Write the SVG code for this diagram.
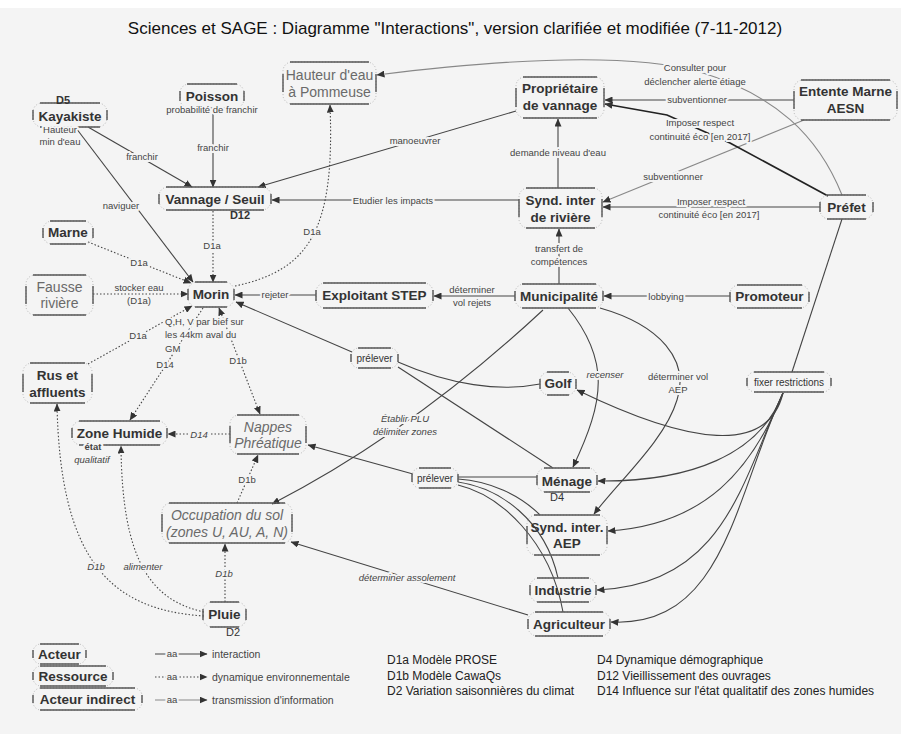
<svg xmlns="http://www.w3.org/2000/svg" width="901" height="734" viewBox="0 0 901 734">
<style>
text{font-family:"Liberation Sans",Arial,sans-serif}
.fr{fill:none;stroke:#b5b5b5;stroke-width:1;stroke-dasharray:1 2}
.ed{fill:none;stroke:#555;stroke-width:1.4}
.a{font-size:13.5px;font-weight:bold;fill:#333;text-anchor:middle}
.r{font-size:14px;fill:#6a6a6a;text-anchor:middle}
.ri{font-size:14px;font-style:italic;fill:#6a6a6a;text-anchor:middle}
.sm{font-size:10px;fill:#333;text-anchor:middle}
.dn{font-size:11px;fill:#333;text-anchor:middle}
.lb{font-size:9.5px;fill:#444;text-anchor:middle;stroke:#f4f4f4;stroke-width:4;paint-order:stroke;stroke-linejoin:round}
.st{text-anchor:start}
.li{font-style:italic}
.s{fill:none;stroke:#444;stroke-width:1.1}
.d{fill:none;stroke:#444;stroke-width:1.1;stroke-dasharray:1.5 2}
.k{fill:none;stroke:#222;stroke-width:1.7}
.g{fill:none;stroke:#888;stroke-width:1.1}
.lg{font-size:12px;fill:#222}
.lt{font-size:10.5px;fill:#444}
</style>
<defs>
<marker id="ar" markerUnits="userSpaceOnUse" markerWidth="8" markerHeight="7" refX="7.5" refY="3.5" orient="auto-start-reverse"><path d="M0,0 L8,3.5 L0,7 z" fill="#333"/></marker>
</defs>
<rect x="0" y="0" width="901" height="734" fill="#ffffff"/>
<rect x="0" y="8" width="901" height="726" fill="#f4f4f4"/>
<text x="455" y="34" font-size="17" fill="#111" text-anchor="middle">Sciences et SAGE : Diagramme "Interactions", version clarifiée et modifiée (7-11-2012)</text>

<g id="connectors">
<path class="s" d="M88,127 L192,187" marker-end="url(#ar)"/>
<path class="s" d="M213,114 L213,187" marker-end="url(#ar)"/>
<path class="s" d="M516,111 L258,187" marker-end="url(#ar)"/>
<path class="s" d="M519,200 L272,200" marker-end="url(#ar)"/>
<path class="s" d="M76,128 L193,282" marker-end="url(#ar)"/>
<path class="d" d="M213,211 L213,282" marker-end="url(#ar)"/>
<path class="d" d="M235,286 C310,270 335,230 330,105" marker-end="url(#ar)"/>
<path class="d" d="M88,242 L191,283" marker-end="url(#ar)"/>
<path class="d" d="M93,294 L188,294" marker-end="url(#ar)"/>
<path class="s" d="M316,295 L235,295" marker-end="url(#ar)"/>
<path class="d" d="M88,364 L192,306" marker-end="url(#ar)"/>
<path class="d" d="M203,308 L130,420" marker-end="url(#ar)"/>
<path class="d" d="M219,308 L260,414" marker-start="url(#ar)" marker-end="url(#ar)"/>
<path class="s" d="M352,352 L236,302" marker-end="url(#ar)"/>
<path class="s" d="M398,362 C450,385 500,392 540,384"/>
<path class="s" d="M398,367 L553,468"/>
<path class="s" d="M515,296 L434,296" marker-end="url(#ar)"/>
<path class="s" d="M559,284 L559,229" marker-end="url(#ar)"/>
<path class="s" d="M558,188 L558,119" marker-end="url(#ar)"/>
<path class="s" d="M730,296 L604,296" marker-end="url(#ar)"/>
<path class="s" d="M794,100 L605,100" marker-end="url(#ar)"/>
<path class="g" d="M804,120 L603,202" marker-end="url(#ar)"/>
<path class="k" d="M828,196 L730,143 L667,115 L605,104" marker-end="url(#ar)"/>
<path class="s" d="M820,207 L603,207" marker-end="url(#ar)"/>
<path class="g" d="M842,195 C818,135 775,95 700,72 C650,58 560,52 377,75" marker-end="url(#ar)"/>
<path class="s" d="M842,219 L792,372"/>
<path class="s" d="M783,393 C768,455 690,445 577,390" marker-end="url(#ar)"/>
<path class="s" d="M783,393 C760,455 690,482 598,481" marker-end="url(#ar)"/>
<path class="s" d="M783,393 C752,470 705,525 608,531" marker-end="url(#ar)"/>
<path class="s" d="M783,393 C742,480 725,585 597,590" marker-end="url(#ar)"/>
<path class="s" d="M783,393 C735,495 725,628 611,622" marker-end="url(#ar)"/>
<path class="s" d="M568,308 C610,360 605,400 573,467" marker-end="url(#ar)"/>
<path class="s" d="M600,308 C660,325 690,360 677,400 C665,440 620,480 594,514" marker-end="url(#ar)"/>
<path class="s" d="M543,310 Q412,432 272,504" marker-end="url(#ar)"/>
<path class="s" d="M413,474 L308,445" marker-end="url(#ar)"/>
<path class="s" d="M458,477 L537,477"/>
<path class="s" d="M458,479 C490,481 520,495 540,515"/>
<path class="s" d="M458,482 C500,488 545,520 558,578"/>
<path class="s" d="M458,485 C500,495 550,540 563,612"/>
<path class="s" d="M528,615 L291,542" marker-end="url(#ar)"/>
<path class="d" d="M225,602 L225,544" marker-end="url(#ar)"/>
<path class="d" d="M237,503 L258,455" marker-end="url(#ar)"/>
<path class="d" d="M230,434 L168,434" marker-end="url(#ar)"/>
<path class="d" d="M204,612 C150,600 122,560 121,446" marker-end="url(#ar)"/>
<path class="d" d="M204,616 C110,610 60,560 57,404" marker-end="url(#ar)"/>

<text class="lb" x="142" y="160">franchir</text>
<text class="lb" x="213" y="151">franchir</text>
<text class="lb" x="415" y="144">manoeuvrer</text>
<text class="lb" x="393" y="204">Etudier les impacts</text>
<text class="lb" x="121" y="209">naviguer</text>
<text class="lb" x="212" y="249">D1a</text>
<text class="lb" x="312" y="235">D1a</text>
<text class="lb" x="139" y="266">D1a</text>
<text class="lb" x="139" y="291">stocker eau</text>
<text class="lb" x="139" y="304">(D1a)</text>
<text class="lb" x="275" y="298">rejeter</text>
<text class="lb" x="138" y="339">D1a</text>
<text class="lb" x="165" y="368">D14</text>
<text class="lb" x="238" y="364">D1b</text>
<text class="lb" x="472" y="293">déterminer</text>
<text class="lb" x="472" y="306">vol rejets</text>
<text class="lb" x="559" y="252">transfert de</text>
<text class="lb" x="559" y="265">compétences</text>
<text class="lb" x="558" y="156">demande niveau d'eau</text>
<text class="lb" x="666" y="300">lobbying</text>
<text class="lb" x="697" y="103">subventionner</text>
<text class="lb" x="673" y="180">subventionner</text>
<text class="lb" x="700" y="126" fill="#222">Imposer respect</text>
<text class="lb" x="700" y="140" fill="#222">continuité éco [en 2017]</text>
<text class="lb" x="711" y="205">Imposer respect</text>
<text class="lb" x="709" y="218">continuité éco [en 2017]</text>
<text class="lb" x="695" y="71">Consulter pour</text>
<text class="lb" x="695" y="85">déclencher alerte étiage</text>
<text class="lb li" x="605" y="378">recenser</text>
<text class="lb" x="678" y="380">déterminer vol</text>
<text class="lb" x="678" y="393">AEP</text>
<text class="lb li" x="405" y="422">Établir PLU</text>
<text class="lb li" x="405" y="435">délimiter zones</text>
<text class="lb li" x="407" y="581">déterminer assolement</text>
<text class="lb li" x="224" y="577">D1b</text>
<text class="lb" x="247" y="483">D1b</text>
<text class="lb li" x="199" y="438">D14</text>
<text class="lb li" x="143" y="570">alimenter</text>
<text class="lb li" x="96" y="570">D1b</text>
<text class="lb st" x="165" y="325">Q,H, V par bief sur</text>
<text class="lb st" x="165" y="338">les 44km aval du</text>
<text class="lb st" x="165" y="352">GM</text>
</g>

<g id="nodes">
<g id="n-hauteur"><rect class="fr" x="283" y="62" width="93" height="42" rx="9"/><path class="ed" d="M290,62 H369 M290,104 H369 M283,74 V92 M376,74 V92"/><text class="r" x="329.5" y="80">Hauteur d'eau</text><text class="r" x="329.5" y="97">à Pommeuse</text></g>
<g id="n-poisson"><rect class="fr" x="180" y="84" width="64" height="24" rx="9"/><path class="ed" d="M187,84 H237 M187,108 H237 M180,91 V101 M244,91 V101"/><text class="a" x="212" y="101">Poisson</text><text class="lb" x="212" y="113">probabilité de franchir</text></g>
<g id="n-kayakiste"><rect class="fr" x="33" y="103" width="74" height="24" rx="9"/><path class="ed" d="M40,103 H100 M40,127 H100 M33,110 V120 M107,110 V120"/><text class="a" x="70" y="121">Kayakiste</text><text class="dn" x="63" y="104" font-weight="bold">D5</text><text class="lb" x="60" y="133">Hauteur</text><text class="lb" x="60" y="145">min d'eau</text></g>
<g id="n-proprietaire"><rect class="fr" x="516" y="77" width="88" height="41" rx="9"/><path class="ed" d="M523,77 H597 M523,118 H597 M516,88 V107 M604,88 V107"/><text class="a" x="560" y="93">Propriétaire</text><text class="a" x="560" y="110">de vannage</text></g>
<g id="n-entente"><rect class="fr" x="794" y="80" width="103" height="40" rx="9"/><path class="ed" d="M801,80 H890 M801,120 H890 M794,91 V109 M897,91 V109"/><text class="a" x="845.5" y="96">Entente Marne</text><text class="a" x="845.5" y="113">AESN</text></g>
<g id="n-vannage"><rect class="fr" x="159" y="187" width="112" height="23" rx="9"/><path class="ed" d="M166,187 H264 M166,210 H264 M159,194 V204 M271,194 V204"/><text class="a" x="215" y="204" font-size="14">Vannage / Seuil</text><text class="dn" x="240" y="219" font-weight="bold">D12</text></g>
<g id="n-synd"><rect class="fr" x="519" y="188" width="83" height="40" rx="9"/><path class="ed" d="M526,188 H595 M526,228 H595 M519,199 V217 M602,199 V217"/><text class="a" x="560.5" y="205">Synd. inter</text><text class="a" x="560.5" y="222">de rivière</text></g>
<g id="n-prefet"><rect class="fr" x="820" y="195" width="53" height="24" rx="9"/><path class="ed" d="M827,195 H866 M827,219 H866 M820,202 V212 M873,202 V212"/><text class="a" x="846.5" y="212">Préfet</text></g>
<g id="n-marne"><rect class="fr" x="43" y="221" width="50" height="23" rx="9"/><path class="ed" d="M50,221 H86 M50,244 H86 M43,228 V238 M93,228 V238"/><text class="a" x="68" y="237">Marne</text></g>
<g id="n-fausse"><rect class="fr" x="26" y="275" width="67" height="40" rx="9"/><path class="ed" d="M33,275 H86 M33,315 H86 M26,286 V304 M93,286 V304"/><text class="r" x="59.5" y="292">Fausse</text><text class="r" x="59.5" y="308">rivière</text></g>
<g id="n-morin"><rect class="fr" x="188" y="282" width="46" height="25" rx="9"/><path class="ed" d="M195,282 H227 M195,307 H227 M188,289 V300 M234,289 V300"/><text class="a" x="211" y="299">Morin</text></g>
<g id="n-step"><rect class="fr" x="316" y="283" width="117" height="25" rx="9"/><path class="ed" d="M323,283 H426 M323,308 H426 M316,290 V301 M433,290 V301"/><text class="a" x="374.5" y="300">Exploitant STEP</text></g>
<g id="n-municipalite"><rect class="fr" x="515" y="284" width="88" height="24" rx="9"/><path class="ed" d="M522,284 H596 M522,308 H596 M515,291 V301 M603,291 V301"/><text class="a" x="559" y="301">Municipalité</text></g>
<g id="n-promoteur"><rect class="fr" x="730" y="285" width="79" height="23" rx="9"/><path class="ed" d="M737,285 H802 M737,308 H802 M730,292 V302 M809,292 V302"/><text class="a" x="769.5" y="301">Promoteur</text></g>
<g id="n-rus"><rect class="fr" x="23" y="363" width="69" height="40" rx="9"/><path class="ed" d="M30,363 H85 M30,403 H85 M23,374 V392 M92,374 V392"/><text class="a" x="57.5" y="380">Rus et</text><text class="a" x="57.5" y="397">affluents</text></g>
<g id="n-prelever1"><rect class="fr" x="351" y="348" width="47" height="20" rx="8"/><path class="ed" d="M358,348 H391 M358,368 H391 M351,354 V362 M398,354 V362" stroke-width="1"/><text class="sm" x="374.5" y="362">prélever</text></g>
<g id="n-golf"><rect class="fr" x="540" y="372" width="36" height="23" rx="9"/><path class="ed" d="M547,372 H569 M547,395 H569 M540,379 V389 M576,379 V389"/><text class="a" x="558" y="388">Golf</text></g>
<g id="n-fixer"><rect class="fr" x="747" y="372" width="84" height="20" rx="8"/><path class="ed" d="M754,372 H824 M754,392 H824 M747,378 V386 M831,378 V386" stroke-width="1"/><text class="sm" x="789" y="386">fixer restrictions</text></g>
<g id="n-zone"><rect class="fr" x="72" y="421" width="95" height="24" rx="9"/><path class="ed" d="M79,421 H160 M79,445 H160 M72,428 V438 M167,428 V438"/><text class="a" x="119.5" y="438">Zone Humide</text><text class="lb" x="93" y="450" font-weight="bold" font-size="9">état</text><text class="lb li" x="92" y="463" font-size="9">qualitatif</text></g>
<g id="n-nappes"><rect class="fr" x="230" y="415" width="76" height="39" rx="9"/><path class="ed" d="M237,415 H299 M237,454 H299 M230,426 V443 M306,426 V443"/><text class="ri" x="268" y="432">Nappes</text><text class="ri" x="268" y="448">Phréatique</text></g>
<g id="n-prelever2"><rect class="fr" x="412" y="468" width="46" height="20" rx="8"/><path class="ed" d="M419,468 H451 M419,488 H451 M412,474 V482 M458,474 V482" stroke-width="1"/><text class="sm" x="435" y="482">prélever</text></g>
<g id="n-menage"><rect class="fr" x="537" y="468" width="60" height="24" rx="9"/><path class="ed" d="M544,468 H590 M544,492 H590 M537,475 V485 M597,475 V485"/><text class="a" x="567" y="486">Ménage</text><text class="dn" x="557" y="501">D4</text></g>
<g id="n-aep"><rect class="fr" x="527" y="515" width="80" height="40" rx="9"/><path class="ed" d="M534,515 H600 M534,555 H600 M527,526 V544 M607,526 V544"/><text class="a" x="567" y="532">Synd. inter.</text><text class="a" x="567" y="548">AEP</text></g>
<g id="n-occupation"><rect class="fr" x="162" y="503" width="130" height="40" rx="9"/><path class="ed" d="M169,503 H285 M169,543 H285 M162,514 V532 M292,514 V532"/><text class="ri" x="227" y="520" font-size="13.5">Occupation du sol</text><text class="ri" x="227" y="537" font-size="13.5">(zones U, AU, A, N)</text></g>
<g id="n-industrie"><rect class="fr" x="530" y="578" width="66" height="24" rx="9"/><path class="ed" d="M537,578 H589 M537,602 H589 M530,585 V595 M596,585 V595"/><text class="a" x="563" y="595">Industrie</text></g>
<g id="n-pluie"><rect class="fr" x="203" y="602" width="43" height="25" rx="9"/><path class="ed" d="M210,602 H239 M210,627 H239 M203,609 V620 M246,609 V620"/><text class="a" x="224.5" y="619">Pluie</text><text class="dn" x="233" y="636">D2</text></g>
<g id="n-agriculteur"><rect class="fr" x="528" y="612" width="82" height="24" rx="9"/><path class="ed" d="M535,612 H603 M535,636 H603 M528,619 V629 M610,619 V629"/><text class="a" x="569" y="629">Agriculteur</text></g>
</g>

<g id="legend">
<g id="lg-acteur"><rect class="fr" x="33" y="644" width="53" height="20" rx="8"/><path class="ed" d="M40,644 H79 M40,664 H79 M33,650 V658 M86,650 V658"/><text class="a" x="59.5" y="659">Acteur</text></g>
<g id="lg-ressource"><rect class="fr" x="33" y="666" width="80" height="20" rx="8"/><path class="ed" d="M40,666 H106 M40,686 H106 M33,672 V680 M113,672 V680"/><text class="a" x="73" y="681" fill="#6a6a6a">Ressource</text></g>
<g id="lg-indirect"><rect class="fr" x="33" y="688" width="109" height="22" rx="8"/><path class="ed" d="M40,688 H135 M40,710 H135 M33,695 V703 M142,695 V703"/><text class="a" x="87.5" y="704">Acteur indirect</text></g>
<path class="s" d="M155,654 H207" marker-end="url(#ar)"/>
<path class="d" d="M155,677 H207" marker-end="url(#ar)"/>
<path class="g" d="M155,700 H207" marker-end="url(#ar)"/>
<text class="lb" x="172" y="657">aa</text>
<text class="lb" x="172" y="680">aa</text>
<text class="lb" x="172" y="703">aa</text>
<text class="lt" x="212" y="658">interaction</text>
<text class="lt" x="212" y="681">dynamique environnementale</text>
<text class="lt" x="212" y="704">transmission d'information</text>
<text class="lg" x="387" y="664">D1a Modèle PROSE</text>
<text class="lg" x="387" y="680">D1b Modèle CawaQs</text>
<text class="lg" x="387" y="695">D2 Variation saisonnières du climat</text>
<text class="lg" x="597" y="664">D4 Dynamique démographique</text>
<text class="lg" x="597" y="680">D12 Vieillissement des ouvrages</text>
<text class="lg" x="597" y="695">D14 Influence sur l'état qualitatif des zones humides</text>
</g>
</svg>
